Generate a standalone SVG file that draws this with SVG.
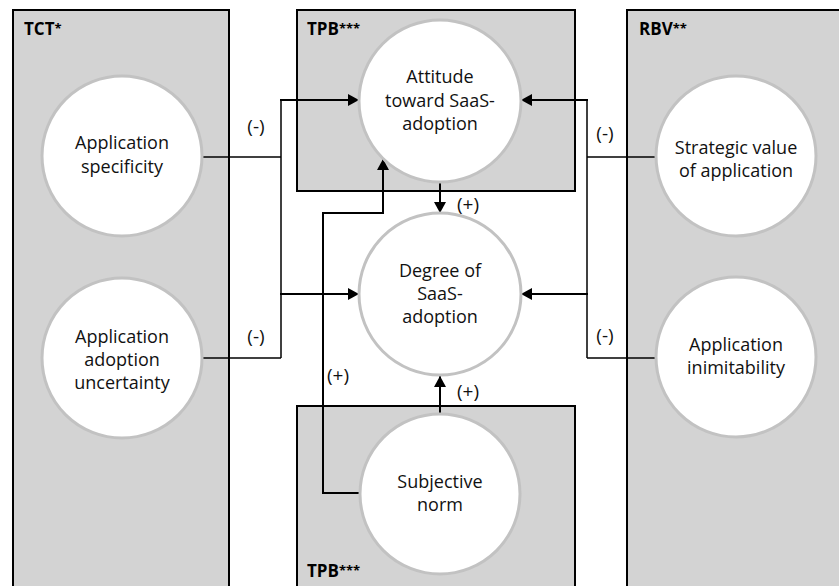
<svg xmlns="http://www.w3.org/2000/svg" width="839" height="586" viewBox="0 0 839 586">
<style>
.box{fill:#d3d3d3;stroke:#000;stroke-width:2}
.node{fill:#fff;stroke:#c2c2c2;stroke-width:3}
.t{font-family:"Open Sans","Liberation Sans",sans-serif;font-size:18px;fill:#111;text-anchor:middle}
.h{font-family:"Open Sans","Liberation Sans",sans-serif;font-size:17px;font-weight:bold;fill:#000}
.h tspan.s{font-size:13px}
.l{font-family:"Open Sans","Liberation Sans",sans-serif;font-size:19px;fill:#111;text-anchor:middle}
.c{fill:none;stroke:#000;stroke-width:1.5}
.a{fill:none;stroke:#000;stroke-width:2}
</style>
<defs>
<marker id="arr" markerUnits="userSpaceOnUse" markerWidth="12" markerHeight="12" viewBox="0 0 12 12" refX="11" refY="6" orient="auto">
<path d="M0,0 L11,6 L0,12 Z" fill="#000"/>
</marker>
</defs>
<rect width="839" height="586" fill="#fff"/>
<g id="box-tct"><rect class="box" x="13" y="10" width="216" height="590"/><text class="h" x="24" y="35">TCT<tspan class="s" dy="-2">*</tspan></text></g>
<g id="box-tpb-top"><rect class="box" x="297" y="10" width="278" height="181"/><text class="h" x="307" y="35">TPB<tspan class="s" dy="-2">***</tspan></text></g>
<g id="box-rbv"><rect class="box" x="627" y="10" width="230" height="590"/><text class="h" x="639" y="35">RBV<tspan class="s" dy="-2">**</tspan></text></g>
<g id="box-tpb-bottom"><rect class="box" x="297" y="406" width="278" height="200"/><text class="h" x="307" y="577">TPB<tspan class="s" dy="-2">***</tspan></text></g>
<g id="connectors">
<path class="c" d="M202,157 H281"/>
<path class="c" d="M281,100 V358"/>
<path class="c" d="M202,358 H281"/>
<path class="a" d="M280,100 H359" marker-end="url(#arr)"/>
<path class="a" d="M280,294 H359" marker-end="url(#arr)"/>
<path class="c" d="M655,157 H587"/>
<path class="c" d="M587,100 V358"/>
<path class="c" d="M655,358 H587"/>
<path class="a" d="M588,100 H521" marker-end="url(#arr)"/>
<path class="a" d="M588,294 H521" marker-end="url(#arr)"/>
<path class="a" d="M360,493 H323 V213 H383 V159" marker-end="url(#arr)"/>
<path class="a" d="M440,182 V213" marker-end="url(#arr)"/>
<path class="a" d="M440,413 V376" marker-end="url(#arr)"/>
<text class="l" x="256" y="133">(-)</text>
<text class="l" x="256" y="343">(-)</text>
<text class="l" x="605" y="140">(-)</text>
<text class="l" x="605" y="342">(-)</text>
<text class="l" x="468" y="211">(+)</text>
<text class="l" x="468" y="398">(+)</text>
<text class="l" x="338" y="382">(+)</text>
</g>
<g id="node-specificity"><circle class="node" cx="122" cy="156" r="80"/><text class="t"><tspan x="122" y="149">Application</tspan><tspan x="122" y="173">specificity</tspan></text></g>
<g id="node-uncertainty"><circle class="node" cx="122" cy="358" r="80"/><text class="t"><tspan x="122" y="343">Application</tspan><tspan x="122" y="366">adoption</tspan><tspan x="122" y="389">uncertainty</tspan></text></g>
<g id="node-attitude"><circle class="node" cx="440" cy="101" r="81"/><text class="t"><tspan x="440" y="83">Attitude</tspan><tspan x="440" y="107">toward SaaS-</tspan><tspan x="440" y="130">adoption</tspan></text></g>
<g id="node-degree"><circle class="node" cx="440" cy="294" r="81"/><text class="t"><tspan x="440" y="277">Degree of</tspan><tspan x="440" y="300">SaaS-</tspan><tspan x="440" y="323">adoption</tspan></text></g>
<g id="node-subjective"><circle class="node" cx="440" cy="494" r="80"/><text class="t"><tspan x="440" y="488">Subjective</tspan><tspan x="440" y="511">norm</tspan></text></g>
<g id="node-strategic"><circle class="node" cx="736" cy="156" r="80"/><text class="t"><tspan x="736" y="154">Strategic value</tspan><tspan x="736" y="177">of application</tspan></text></g>
<g id="node-inimitability"><circle class="node" cx="736" cy="357" r="80"/><text class="t"><tspan x="736" y="351">Application</tspan><tspan x="736" y="374">inimitability</tspan></text></g>
</svg>
